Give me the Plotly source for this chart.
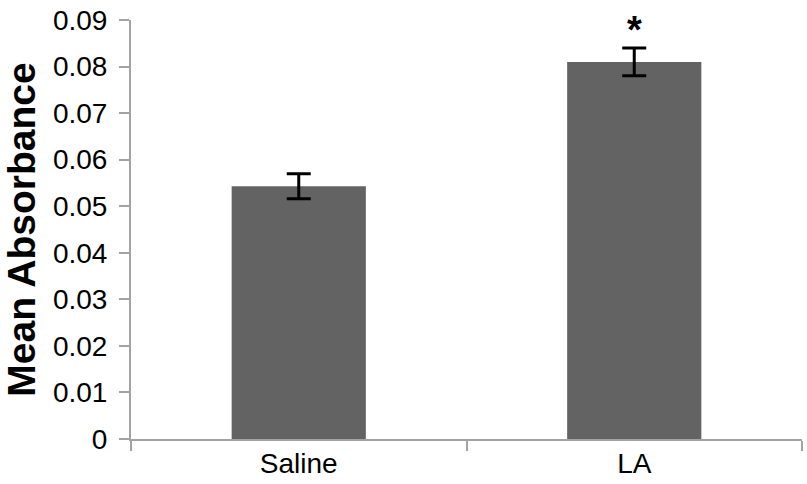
import plotly.graph_objects as go

categories = ["Saline", "LA"]
means = [0.0543, 0.0810]
errors = [0.0027, 0.0030]
significance = ["", "*"]
y_ticks = [0, 0.01, 0.02, 0.03, 0.04, 0.05, 0.06, 0.07, 0.08, 0.09]
y_tick_labels = ["0", "0.01", "0.02", "0.03", "0.04", "0.05", "0.06", "0.07", "0.08", "0.09"]

FONT = "Liberation Sans, Arial, sans-serif"
AXIS_COLOR = "#a3a3a3"

fig = go.Figure()
fig.add_trace(go.Bar(
    x=categories,
    y=means,
    width=0.40,
    marker=dict(color="#636363", line=dict(width=0)),
    error_y=dict(type="data", array=errors, visible=True,
                 color="black", thickness=3, width=12),
    showlegend=False,
))

for cat, m, e, s in zip(categories, means, errors, significance):
    if s:
        fig.add_annotation(x=cat, y=m + e, text="<b>" + s + "</b>", showarrow=False,
                           yanchor="bottom", yshift=-5,
                           font=dict(family=FONT, size=38, color="black"))

fig.update_layout(
    width=807, height=484,
    margin=dict(l=131, r=5, t=17, b=44),
    plot_bgcolor="white", paper_bgcolor="white",
    font=dict(family=FONT, color="black"),
    bargap=0.6,
)
fig.update_xaxes(
    range=[-0.5, 1.5],
    showline=True, linecolor=AXIS_COLOR, linewidth=2,
    ticks="outside", tickson="boundaries", ticklen=10, tickcolor=AXIS_COLOR, tickwidth=2,
    tickfont=dict(family=FONT, size=28, color="black"),
    ticklabelstandoff=-2,
    showgrid=False, zeroline=False,
)
fig.update_yaxes(
    range=[0, 0.09],
    tickvals=y_ticks, ticktext=y_tick_labels,
    showline=True, linecolor=AXIS_COLOR, linewidth=2,
    ticks="outside", ticklen=10, tickcolor=AXIS_COLOR, tickwidth=2,
    tickfont=dict(family=FONT, size=28, color="black"),
    ticklabelstandoff=6,
    showgrid=False, zeroline=False,
    title=dict(text="<b>Mean Absorbance</b>", font=dict(family=FONT, size=39, color="black"), standoff=10),
)

fig.write_html("out.html", config={"displayModeBar": False},
               post_script="document.body.style.margin='0';document.body.style.overflow='hidden';")
